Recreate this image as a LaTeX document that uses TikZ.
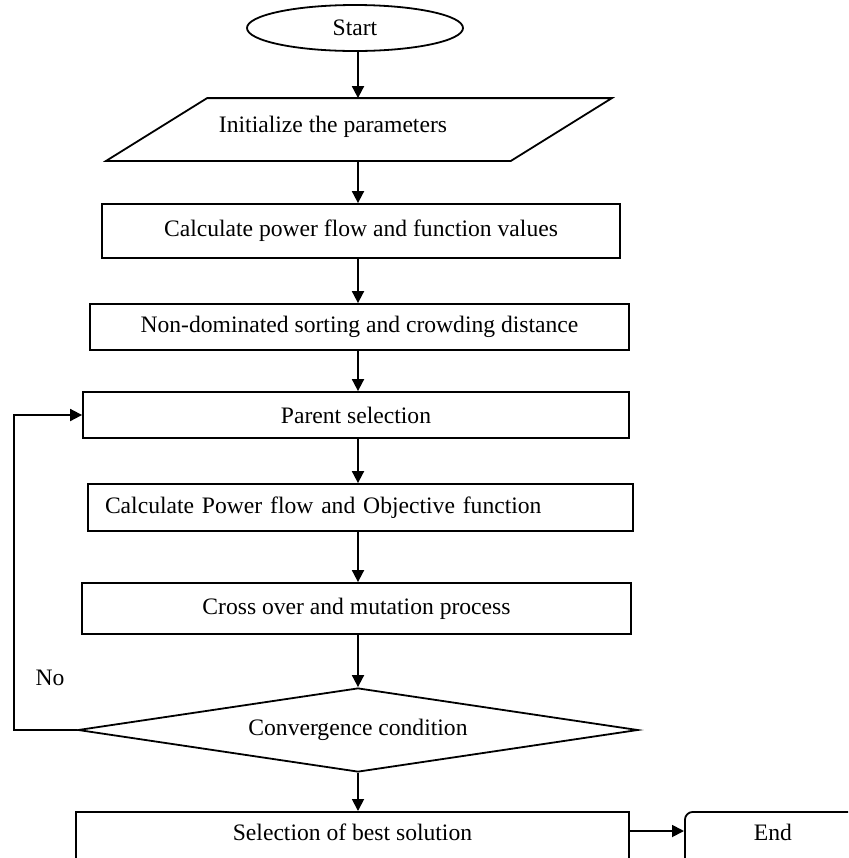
\documentclass[tikz,border=0pt]{standalone}
\usepackage{fontspec}
\setmainfont{Liberation Serif}
\usetikzlibrary{shapes.geometric,arrows.meta}

\begin{document}
\begin{tikzpicture}[x=0.5pt, y=-0.5pt, line width=0.9pt,
		every node/.style={font=\fontsize{11.8}{14}\selectfont},
		box/.style={draw, rectangle, inner sep=0pt},
		arrow/.style={-{Triangle[length=6pt, width=6pt]}}]
		\useasboundingbox (0, 0) rectangle (848, 858);
		\clip (0, 0) rectangle (848, 858);
		\coordinate (spine) at (358, 0);
		
		\node[draw, ellipse, inner sep=0pt, minimum width=108pt, minimum height=23pt] (start) at (355, 28) {Start};
		\node[inner sep=0pt, minimum width=252pt, minimum height=30.5pt] (init) at (359, 129.5) {};
		\draw ([xshift=50.5pt]init.north west) -- (init.north east) -- ([xshift=-50.5pt]init.south east) -- (init.south west) -- cycle;
		\node (initlbl) at (333, 127) {Initialize the parameters};
		\node[box, minimum width=259pt, minimum height=27pt] (calc1) at (361, 231) {Calculate power flow and function values};
		\node[box, minimum width=269.5pt, minimum height=23pt] (sort) at (359.5, 327) {Non-dominated sorting and crowding distance};
		\node[box, minimum width=273pt, minimum height=23pt] (parent) at (356, 415) {Parent selection};
		\node[box, minimum width=272.5pt, minimum height=23.5pt, text width=255.5pt, inner xsep=8.5pt, align=left] (calc2) at (360.5, 507.5) {Calculate Power flow and Objective function};
		\node[box, minimum width=274.5pt, minimum height=25.5pt] (cross) at (356.5, 608.5) {Cross over and mutation process};
		\node[draw, diamond, shape aspect=6.67, inner sep=0pt, minimum width=280pt, minimum height=42pt] (conv) at (358, 730) {Convergence condition};
		\node (no) at (50, 678) {No};
		\node[box, anchor=north, minimum width=276.5pt, inner ysep=6.5pt, text height=8pt, text depth=25pt] (best) at (352.5, 811) {Selection of best solution};
		\node[draw, rounded corners=4pt, anchor=north west, minimum width=88pt, inner ysep=6.5pt, text height=8pt, text depth=25pt] (stop) at (684, 811) {End};
		
		\foreach \a/\b in {start/init, init/calc1, calc1/sort, sort/parent, parent/calc2, calc2/cross, cross/conv, conv/best}
			\draw[arrow] (\a.south -| spine) -- (\b.north -| spine);
		\draw[arrow] (conv.west) -- ++(-63, 0) |- (parent.west);
		\draw[arrow] ([yshift=-10pt]best.north east) -- ([yshift=-10pt]stop.north west);
\end{tikzpicture}
\end{document}
